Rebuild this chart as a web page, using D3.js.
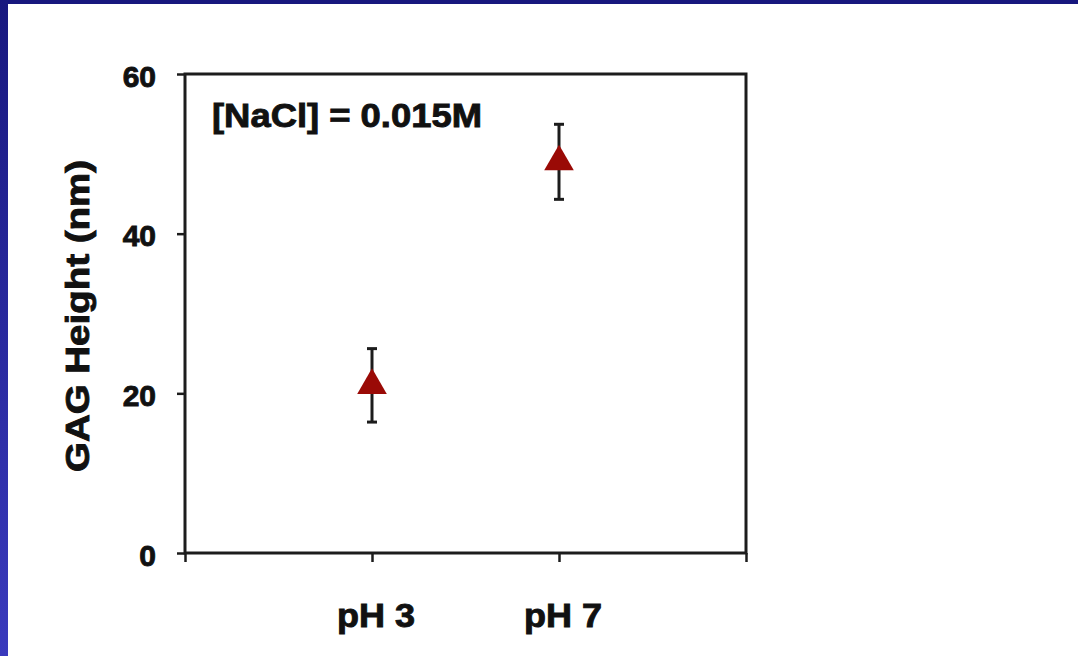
<!DOCTYPE html>
<html>
<head>
<meta charset="utf-8">
<script src="https://cdn.jsdelivr.net/npm/d3@7"></script>
<style>
  body { margin: 0; background: #fff; }
  svg { display: block; }
  text { font-family: "Liberation Sans", Arial, sans-serif; font-weight: bold; fill: #111; stroke: #111; stroke-width: 0.9px; }
</style>
</head>
<body>
<script>
// data
var categories = ["pH 3", "pH 7"];
var catPos = [1, 2];          // position of each category on the x axis (0..3)
var means = [21, 49];
var errors = [4.6, 4.7];
var yTicks = [0, 20, 40, 60];
var xTicks = [0, 1, 2, 3];
var note = "[NaCl] = 0.015M";
var yTitle = "GAG Height (nm)";

var width = 1078, height = 656;
var plot = {left: 185, right: 746, top: 74, bottom: 553};

var svg = d3.select("body").append("svg")
  .attr("width", width)
  .attr("height", height);

// slide frame (blue bands on top and left)
var defs = svg.append("defs");
var grad = defs.append("linearGradient")
  .attr("id", "leftBand")
  .attr("x1", 0).attr("y1", 0).attr("x2", 0).attr("y2", 1);
grad.append("stop").attr("offset", "0%").attr("stop-color", "#18187f");
grad.append("stop").attr("offset", "100%").attr("stop-color", "#3a3abd");

svg.append("rect").attr("x", 0).attr("y", 0).attr("width", width).attr("height", height).attr("fill", "#fff");
svg.append("rect").attr("x", 0).attr("y", 0).attr("width", width).attr("height", 4).attr("fill", "#17177e");
svg.append("rect").attr("x", 0).attr("y", 0).attr("width", 8).attr("height", height).attr("fill", "url(#leftBand)");

var x = d3.scaleLinear().domain([0, 3]).range([plot.left, plot.right]);
var y = d3.scaleLinear().domain([0, 60]).range([plot.bottom, plot.top]);

var axisColor = "#1c1c1c";

// frame box
svg.append("rect")
  .attr("x", plot.left).attr("y", plot.top)
  .attr("width", plot.right - plot.left).attr("height", plot.bottom - plot.top)
  .attr("fill", "none").attr("stroke", axisColor).attr("stroke-width", 3);

// y axis
var yAxis = svg.append("g")
  .attr("transform", "translate(" + plot.left + ",0)")
  .call(d3.axisLeft(y).tickValues(yTicks).tickSize(8).tickPadding(21).tickFormat(d3.format("d")));
yAxis.select(".domain").remove();
yAxis.selectAll(".tick line").attr("stroke", axisColor).attr("stroke-width", 2.5);
yAxis.selectAll(".tick text")
  .attr("font-size", 30)
  .attr("font-family", "Liberation Sans, Arial, sans-serif")
  .attr("font-weight", "bold")
  .attr("fill", "#111")
  .attr("dy", "0.4em");

// x axis
var xAxis = svg.append("g")
  .attr("transform", "translate(0," + plot.bottom + ")")
  .call(d3.axisBottom(x).tickValues(xTicks).tickSize(9).tickFormat(""));
xAxis.select(".domain").remove();
xAxis.selectAll(".tick line").attr("stroke", axisColor).attr("stroke-width", 2.5);

// category labels
svg.selectAll(".cat")
  .data(categories)
  .enter().append("text")
  .attr("class", "cat")
  .attr("x", function(d, i) { return x(catPos[i]) + 4; })
  .attr("y", 627)
  .attr("text-anchor", "middle")
  .attr("font-size", 33)
  .attr("textLength", 78)
  .attr("lengthAdjust", "spacingAndGlyphs")
  .text(function(d) { return d; });

// y title
svg.append("text")
  .attr("transform", "translate(89,316) rotate(-90)")
  .attr("text-anchor", "middle")
  .attr("font-size", 33)
  .attr("textLength", 312)
  .attr("lengthAdjust", "spacingAndGlyphs")
  .text(yTitle);

// annotation
svg.append("text")
  .attr("x", 212)
  .attr("y", 127)
  .attr("font-size", 33)
  .attr("textLength", 270)
  .attr("lengthAdjust", "spacingAndGlyphs")
  .text(note);

// error bars + triangles
var pts = svg.append("g");
categories.forEach(function(c, i) {
  var cx = x(catPos[i]);
  var hi = y(means[i] + errors[i]);
  var lo = y(means[i] - errors[i]);
  pts.append("line")
    .attr("x1", cx).attr("x2", cx).attr("y1", hi).attr("y2", lo)
    .attr("stroke", axisColor).attr("stroke-width", 3);
  [hi, lo].forEach(function(yy) {
    pts.append("line")
      .attr("x1", cx - 5).attr("x2", cx + 5).attr("y1", yy).attr("y2", yy)
      .attr("stroke", axisColor).attr("stroke-width", 3);
  });
  pts.append("path")
    .attr("d", d3.symbol().type(d3.symbolTriangle).size(380)())
    .attr("transform", "translate(" + cx + "," + y(means[i]) + ")")
    .attr("fill", "#9a0a06");
});
</script>
</body>
</html>
